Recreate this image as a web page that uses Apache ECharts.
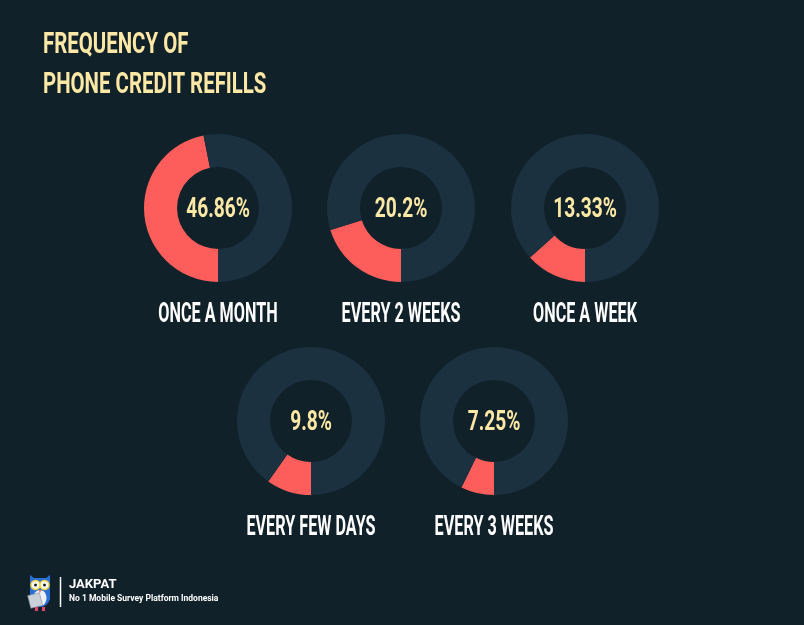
<!DOCTYPE html>
<html><head><meta charset="utf-8">
<script src="https://cdn.jsdelivr.net/npm/echarts@6/dist/echarts.min.js"></script>
<style>html,body{margin:0;padding:0;background:#10212a;}#c{width:804px;height:625px;}</style>
</head><body><div id="c"></div>
<script>
const categories = ['ONCE A MONTH','EVERY 2 WEEKS','ONCE A WEEK','EVERY FEW DAYS','EVERY 3 WEEKS'];
const values = [46.86, 20.2, 13.33, 9.8, 7.25];
const titleLines = ['FREQUENCY OF','PHONE CREDIT REFILLS'];
const brandName = 'JAKPAT';
const brandTag = 'No 1 Mobile Survey Platform Indonesia';

const BG='#10212a', RING='#1b3140', RED='#fd5e5b', CREAM='#fde8a6';
const FONT='Roboto, "Noto Sans", sans-serif';
const centers=[[218,208],[401,208],[585,208],[311,421],[494,421]];

const chart=echarts.init(document.getElementById('c'),null,{renderer:'canvas'});
const series=values.map((v,i)=>({
  type:'pie', silent:true, center:centers[i], radius:[41,74], startAngle:270, clockwise:true,
  label:{show:false}, labelLine:{show:false},
  data:[
    {name:categories[i],value:v,itemStyle:{color:RED}},
    {name:'other',value:+(100-v).toFixed(2),itemStyle:{color:RING}}
  ]
}));
function condText(text,x,y,size,color,sx,align){
  return {type:'text',x:x,y:y,scaleX:sx,silent:true,
    style:{text:text,fill:color,font:'bold '+size+'px '+FONT,textAlign:align||'center',textVerticalAlign:'middle'}};
}
const texts=[];
titleLines.forEach((t,i)=>texts.push(condText(t,43,45+i*40,30,CREAM,0.68,'left')));
values.forEach((v,i)=>texts.push(condText(v+'%',centers[i][0],centers[i][1]+2,27,CREAM,0.71)));
categories.forEach((c,i)=>texts.push(condText(c,centers[i][0],centers[i][1]+107,27,'#ffffff',0.6)));

chart.setOption({
  backgroundColor:BG, animation:false,
  series:series,
  graphic:texts.concat([
    // owl logo
    {type:'polygon',shape:{points:[[30,575],[34,578],[46,578],[50,575],[50,600],[30,600]]},style:{fill:'#2a6fd6'}},
    {type:'ellipse',shape:{cx:40,cy:597,rx:10,ry:10},style:{fill:'#2a6fd6'}},
    {type:'ellipse',shape:{cx:40,cy:598,rx:6.5,ry:8},style:{fill:'#eef2f6'}},
    {type:'circle',shape:{cx:35.5,cy:585,r:4.5},style:{fill:'#ffffff',stroke:'#f5d23a',lineWidth:1.5}},
    {type:'circle',shape:{cx:44.5,cy:585,r:4.5},style:{fill:'#ffffff',stroke:'#f5d23a',lineWidth:1.5}},
    {type:'circle',shape:{cx:35.5,cy:585,r:1.5},style:{fill:'#222'}},
    {type:'circle',shape:{cx:44.5,cy:585,r:1.5},style:{fill:'#222'}},
    {type:'polygon',shape:{points:[[38.5,590],[41.5,590],[40,593]]},style:{fill:'#f07a7a'}},
    {type:'rect',shape:{x:29,y:594,width:12,height:13},rotation:0.25,originX:35,originY:600,style:{fill:'#c9d0d8',stroke:'#8a96a3',lineWidth:0.6}},
    {type:'rect',shape:{x:35,y:607,width:3,height:4},style:{fill:'#e0456b'}},
    {type:'rect',shape:{x:42,y:607,width:3,height:4},style:{fill:'#e0456b'}},
    {type:'line',shape:{x1:60.5,y1:577,x2:60.5,y2:607},style:{stroke:'#ffffff',lineWidth:1.5}},
    {type:'text',x:69,y:585,style:{text:brandName,fill:'#ffffff',font:'bold 13px Roboto, sans-serif',textVerticalAlign:'middle'}},
    {type:'text',x:69,y:599,style:{text:brandTag,fill:'#ffffff',font:'bold 8.5px Roboto, sans-serif',textVerticalAlign:'middle'}}
  ])
});
</script></body></html>
